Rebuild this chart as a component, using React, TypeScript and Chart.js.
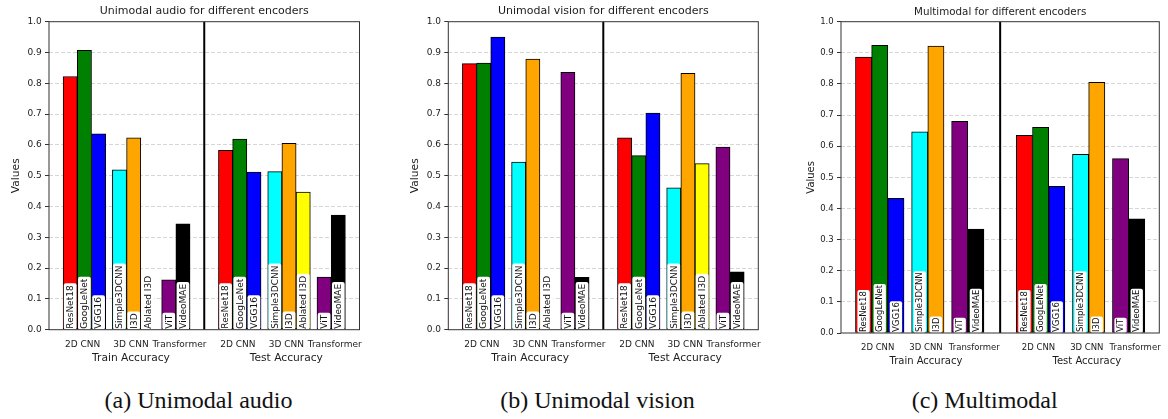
import React, { useEffect, useRef } from 'react';
import { Chart, registerables } from 'chart.js';

Chart.register(...registerables);

// ---------- data ----------
const subgroupNames = ['2D CNN', '3D CNN', 'Transformer'];
const groupNames = ['Train Accuracy', 'Test Accuracy'];

const unimodalEncoders = ['ResNet18', 'GoogLeNet', 'VGG16', 'Simple3DCNN', 'I3D', 'Ablated I3D', 'ViT', 'VideoMAE'];
const unimodalSubgroup = [0, 0, 0, 1, 1, 1, 2, 2];
const multimodalEncoders = ['ResNet18', 'GoogLeNet', 'VGG16', 'Simple3DCNN', 'I3D', 'ViT', 'VideoMAE'];
const multimodalSubgroup = [0, 0, 0, 1, 1, 2, 2];

const audioTrain = [0.822, 0.907, 0.636, 0.519, 0.623, null, 0.162, 0.344];
const audioTest = [0.582, 0.619, 0.512, 0.513, 0.605, 0.447, 0.171, 0.372];
const visionTrain = [0.864, 0.866, 0.950, 0.544, 0.879, null, 0.836, 0.170];
const visionTest = [0.623, 0.565, 0.703, 0.461, 0.832, 0.539, 0.593, 0.188];
const multiTrain = [0.886, 0.924, 0.433, 0.646, 0.922, 0.680, 0.334];
const multiTest = [0.635, 0.661, 0.471, 0.574, 0.805, 0.560, 0.367];

const encoderColors: Record<string, string> = {
  ResNet18: '#ff0000',
  GoogLeNet: '#008000',
  VGG16: '#0000ff',
  Simple3DCNN: '#00ffff',
  I3D: '#ffa500',
  'Ablated I3D': '#ffff00',
  ViT: '#800080',
  VideoMAE: '#000000',
};

// ---------- layout (bar units) ----------
const SUB_GAP = 0.47;
const GROUP_GAP = 2;
const MARGIN = 0.05;
const H = 375;
const FONT = '"DejaVu Sans", sans-serif';
const TEXT = '#1c1c1c';

const panels = [
  {
    title: 'Unimodal audio for different encoders', caption: '(a) Unimodal audio',
    encoders: unimodalEncoders, subgroupOf: unimodalSubgroup, train: audioTrain, test: audioTest,
    left: 0, width: 390, plotLeft: 49, plotRight: 359.5, plotBottom: 329.7,
    titleSize: 11, titlePadTop: 5, tickSize: 9, labelSize: 10.7, barLabelSize: 9, barLabelPad: 3, boxWidth: 12.7,
    yTitlePad: 10.3, tickEndShift: 0.25, captionX: 198.5,
  },
  {
    title: 'Unimodal vision for different encoders', caption: '(b) Unimodal vision',
    encoders: unimodalEncoders, subgroupOf: unimodalSubgroup, train: visionTrain, test: visionTest,
    left: 390, width: 390, plotLeft: 58.3, plotRight: 368.3, plotBottom: 329.7,
    titleSize: 11, titlePadTop: 5, tickSize: 9, labelSize: 10.7, barLabelSize: 9, barLabelPad: 3, boxWidth: 12.7,
    yTitlePad: 19.3, tickEndShift: 0.25, captionX: 597.5,
  },
  {
    title: 'Multimodal for different encoders', caption: '(c) Multimodal',
    encoders: multimodalEncoders, subgroupOf: multimodalSubgroup, train: multiTrain, test: multiTest,
    left: 780, width: 388, plotLeft: 61, plotRight: 379.3, plotBottom: 333,
    titleSize: 10.3, titlePadTop: 6, tickSize: 8.5, labelSize: 10, barLabelSize: 8.5, barLabelPad: 2, boxWidth: 12.3,
    yTitlePad: 25, tickEndShift: 0.4, captionX: 984.7,
  },
];

type PanelCfg = typeof panels[number];

function layout(subgroupOf: number[]) {
  const centers: number[] = [];
  let pos = 0;
  subgroupOf.forEach((sg, i) => {
    if (i > 0 && sg !== subgroupOf[i - 1]) pos += SUB_GAP;
    centers.push(pos + 0.5);
    pos += 1;
  });
  return { centers, width: pos };
}

function buildConfig(p: PanelCfg): any {
  const { centers, width } = layout(p.subgroupOf);
  const groupOffsets = [0, width + GROUP_GAP];
  const total = 2 * width + GROUP_GAP;
  const min = -MARGIN * total;
  const max = total + MARGIN * total;
  const series = [p.train, p.test];

  const data: { x: number; y: number }[] = [];
  const colors: string[] = [];
  const slots: { x: number; label: string }[] = [];
  series.forEach((vals, g) => {
    vals.forEach((v, i) => {
      const x = groupOffsets[g] + centers[i];
      slots.push({ x, label: p.encoders[i] });
      if (v == null) return;
      data.push({ x, y: v as number });
      colors.push(encoderColors[p.encoders[i]]);
    });
  });

  const sgCenters = subgroupNames.map((_, s) => {
    const idx = p.subgroupOf.map((sg, i) => (sg === s ? i : -1)).filter((i) => i >= 0);
    return (centers[idx[0]] + centers[idx[idx.length - 1]]) / 2;
  });
  const first = sgCenters[0] - 0.13;
  const last = sgCenters[2] + p.tickEndShift;
  const tickRel = [0, 1, 2].map((k) => first + ((last - first) * k) / 2);
  const subTicks = groupOffsets.flatMap((o) => tickRel.map((t) => o + t));
  const groupTicks = groupOffsets.map((o) => o + tickRel[1]);
  const divider = width + GROUP_GAP / 2;

  const xH = 20;
  const x2H = 20;
  const subPad = 14.8 - (p.tickSize * 1.2) / 2;
  const grpPad = 28.3 - xH - (p.labelSize * 1.2) / 2;

  const overlay = {
    id: 'overlay' + p.left,
    afterDatasetsDraw(chart: any) {
      const { ctx, chartArea, scales } = chart;
      const xs = scales.x;
      const ys = scales.y;
      const y0 = ys.getPixelForValue(0);
      ctx.save();
      ctx.font = `${p.barLabelSize}px ${FONT}`;
      slots.forEach((s) => {
        const xc = xs.getPixelForValue(s.x);
        const tw = ctx.measureText(s.label).width;
        const h = tw + p.barLabelPad;
        const bw = p.boxWidth;
        ctx.fillStyle = '#ffffff';
        ctx.beginPath();
        if (ctx.roundRect) ctx.roundRect(xc - bw / 2, y0 - h, bw, h, 2);
        else ctx.rect(xc - bw / 2, y0 - h, bw, h);
        ctx.fill();
        ctx.save();
        ctx.translate(xc, y0 - 1);
        ctx.rotate(-Math.PI / 2);
        ctx.fillStyle = '#111';
        ctx.textAlign = 'left';
        ctx.textBaseline = 'middle';
        ctx.fillText(s.label, 0, 0.5);
        ctx.restore();
      });
      const xd = xs.getPixelForValue(divider);
      ctx.strokeStyle = '#000';
      ctx.lineWidth = 2;
      ctx.beginPath();
      ctx.moveTo(xd, chartArea.top);
      ctx.lineTo(xd, chartArea.bottom);
      ctx.stroke();
      ctx.strokeStyle = '#333';
      ctx.lineWidth = 1;
      ctx.strokeRect(chartArea.left, chartArea.top, chartArea.right - chartArea.left, chartArea.bottom - chartArea.top);
      ctx.restore();
    },
  };

  const titleLH = p.titleSize * 1.2;
  return {
    type: 'bar',
    data: {
      datasets: [
        {
          data,
          backgroundColor: colors,
          borderColor: '#000',
          borderWidth: 1,
          borderSkipped: false,
          barPercentage: 1,
          categoryPercentage: 1,
        },
      ],
    },
    plugins: [overlay],
    options: {
      responsive: false,
      animation: false,
      devicePixelRatio: 1,
      layout: {
        padding: {
          left: 0,
          top: 0,
          right: p.width - p.plotRight,
          bottom: H - p.plotBottom - xH - x2H,
        },
      },
      plugins: {
        legend: { display: false },
        tooltip: { enabled: false },
        title: {
          display: true,
          fullSize: false,
          text: p.title,
          color: TEXT,
          font: { family: FONT, size: p.titleSize, weight: 'normal' },
          padding: { top: p.titlePadTop, bottom: 21.7 - p.titlePadTop - titleLH },
        },
      },
      scales: {
        x: {
          type: 'linear',
          position: 'bottom',
          weight: 0,
          offset: false,
          min,
          max,
          grid: { display: false, drawTicks: false },
          border: { display: false },
          afterBuildTicks: (s: any) => {
            s.ticks = subTicks.map((v) => ({ value: v }));
          },
          afterFit: (s: any) => {
            s.height = xH;
            s.paddingLeft = 0;
            s.paddingRight = 0;
          },
          ticks: {
            autoSkip: false,
            maxRotation: 0,
            minRotation: 0,
            padding: subPad,
            color: TEXT,
            font: { family: FONT, size: p.tickSize },
            callback: (_v: any, i: number) => subgroupNames[i % subgroupNames.length],
          },
        },
        x2: {
          type: 'linear',
          position: 'bottom',
          weight: 1,
          offset: false,
          min,
          max,
          grid: { display: false, drawTicks: false },
          border: { display: false },
          afterBuildTicks: (s: any) => {
            s.ticks = groupTicks.map((v) => ({ value: v }));
          },
          afterFit: (s: any) => {
            s.height = x2H;
            s.paddingLeft = 0;
            s.paddingRight = 0;
          },
          ticks: {
            autoSkip: false,
            maxRotation: 0,
            minRotation: 0,
            padding: grpPad,
            color: TEXT,
            font: { family: FONT, size: p.labelSize },
            callback: (_v: any, i: number) => groupNames[i],
          },
        },
        y: {
          type: 'linear',
          min: 0,
          max: 1,
          afterFit: (s: any) => {
            s.width = p.plotLeft;
            s.paddingTop = 0;
            s.paddingBottom = 0;
          },
          ticks: {
            stepSize: 0.1,
            padding: 3.3,
            color: TEXT,
            font: { family: FONT, size: p.tickSize },
            callback: (v: any) => Number(v).toFixed(1),
          },
          grid: {
            color: (c: any) =>
              c.tick && (c.tick.value < 0.001 || c.tick.value > 0.999) ? 'rgba(0,0,0,0)' : 'rgba(0,0,0,0.16)',
            lineWidth: 1,
            drawTicks: true,
            tickLength: 4,
            tickColor: '#333',
            tickWidth: 1,
          },
          border: { display: false, dash: [4, 2] },
          title: {
            display: true,
            text: 'Values',
            color: TEXT,
            font: { family: FONT, size: p.labelSize },
            padding: { top: p.yTitlePad, bottom: 0 },
          },
        },
      },
    },
  };
}

function Panel({ p }: { p: PanelCfg }) {
  const ref = useRef<HTMLCanvasElement>(null);
  useEffect(() => {
    const chart = new Chart(ref.current as HTMLCanvasElement, buildConfig(p));
    return () => chart.destroy();
  }, [p]);
  return (
    <canvas
      ref={ref}
      width={p.width}
      height={H}
      style={{ position: 'absolute', left: p.left, top: 0, width: p.width, height: H }}
    />
  );
}

export default function App() {
  return (
    <div style={{ position: 'absolute', left: 0, top: 0, width: 1168, height: 419, background: '#fff', overflow: 'hidden' }}>
      {panels.map((p) => (
        <Panel key={p.left} p={p} />
      ))}
      {panels.map((p) => (
        <div
          key={'c' + p.left}
          style={{
            position: 'absolute',
            left: p.captionX - 150,
            width: 300,
            top: 385,
            height: 30,
            lineHeight: '30px',
            textAlign: 'center',
            fontFamily: '"Liberation Serif", "Times New Roman", serif',
            fontSize: 24,
            color: '#111',
          }}
        >
          {p.caption}
        </div>
      ))}
    </div>
  );
}
